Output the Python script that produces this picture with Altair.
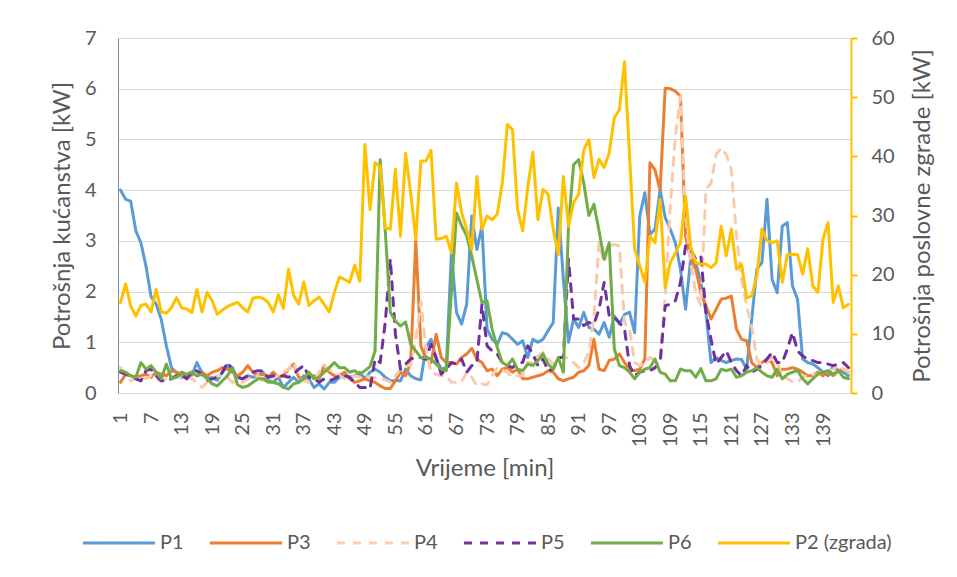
import altair as alt
import pandas as pd

# ---------------- data ----------------
minutes = list(range(1, 145))

p1 = [4.0, 3.82, 3.78, 3.2, 2.96, 2.5, 1.9, 1.75, 1.45, 0.93, 0.5, 0.4, 0.3, 0.35, 0.35, 0.6, 0.4, 0.3, 0.3, 0.25, 0.4, 0.55, 0.44, 0.31,
      0.28, 0.34, 0.31, 0.34, 0.41, 0.24, 0.21, 0.31, 0.11, 0.21, 0.31, 0.21, 0.34, 0.28, 0.11, 0.18, 0.08, 0.21, 0.21, 0.31, 0.34, 0.31, 0.34, 0.41,
      0.28, 0.41, 0.47, 0.41, 0.31, 0.24, 0.24, 0.24, 0.47, 0.34, 0.28, 0.26, 0.9, 1.06, 0.67, 0.47, 0.5, 2.77, 1.59, 1.36, 1.75, 3.49, 2.83,
      3.29, 1.26, 1.06, 0.96, 1.19, 1.16, 1.06, 0.96, 1.03, 0.7, 1.06, 1.0, 1.06, 1.23, 1.39, 3.65, 2.24, 1.0, 1.46, 1.29, 1.59, 1.29, 1.26, 1.16,
      1.39, 1.1, 1.52, 1.36, 1.55, 1.59, 1.19, 3.49, 3.95, 3.13, 3.23, 4.01, 3.46, 3.23, 2.96, 2.44, 1.65, 2.64, 2.57, 2.18, 1.59, 0.6, 0.7,
      0.64, 0.6, 0.64, 0.67, 0.66, 0.47, 1.46, 2.44, 2.57, 3.82, 2.24, 1.98, 3.29, 3.36, 2.11, 1.85, 0.67, 0.6, 0.57, 0.5, 0.41, 0.34, 0.54, 0.44, 0.41, 0.34]

p3 = [0.21, 0.37, 0.34, 0.31, 0.34, 0.37, 0.31, 0.41, 0.37, 0.34, 0.44, 0.41, 0.37, 0.34, 0.41, 0.34, 0.41, 0.34, 0.41, 0.44, 0.5, 0.47, 0.41, 0.34,
      0.41, 0.54, 0.41, 0.34, 0.37, 0.31, 0.41, 0.31, 0.34, 0.47, 0.57, 0.31, 0.28, 0.34, 0.34, 0.28, 0.54, 0.41, 0.34, 0.34, 0.41, 0.28, 0.21, 0.24,
      0.28, 0.24, 0.21, 0.14, 0.09, 0.09, 0.24, 0.41, 0.34, 0.6, 3.0, 0.93, 0.67, 0.6, 1.16, 0.7, 0.6, 0.6, 0.57, 0.7, 0.77, 0.88, 0.67,
      0.6, 0.44, 0.47, 0.34, 0.47, 0.5, 0.41, 0.47, 0.28, 0.28, 0.31, 0.34, 0.37, 0.44, 0.41, 0.28, 0.24, 0.28, 0.31, 0.41, 0.44, 0.54, 1.06, 0.47,
      0.44, 0.64, 0.67, 0.77, 0.6, 0.47, 0.44, 0.47, 0.67, 4.54, 4.4, 4.0, 6.01, 6.0, 5.95, 5.85, 3.1, 2.64, 2.44, 1.98, 1.72, 1.46, 1.65,
      1.85, 1.87, 1.91, 1.26, 1.06, 1.03, 0.6, 0.5, 0.6, 0.67, 0.6, 0.34, 0.47, 0.47, 0.5, 0.47, 0.41, 0.34, 0.34, 0.41, 0.34, 0.41, 0.34, 0.44, 0.47, 0.41]

p4 = [0.5, 0.34, 0.24, 0.31, 0.34, 0.28, 0.34, 0.28, 0.24, 0.28, 0.31, 0.34, 0.28, 0.31, 0.28, 0.21, 0.11, 0.21, 0.28, 0.34, 0.34, 0.31, 0.21, 0.21,
      0.21, 0.28, 0.31, 0.34, 0.24, 0.28, 0.31, 0.34, 0.41, 0.47, 0.6, 0.34, 0.24, 0.21, 0.24, 0.41, 0.54, 0.47, 0.37, 0.34, 0.28, 0.31, 0.34, 0.31,
      0.34, 0.31, 0.3, 0.28, 0.26, 0.21, 0.34, 0.47, 0.54, 0.54, 1.06, 1.8, 0.87, 0.41, 0.37, 0.34, 0.34, 0.21, 0.21, 0.22, 0.41, 0.31, 0.14,
      0.18, 0.16, 0.34, 0.5, 0.45, 0.4, 0.31, 0.34, 0.34, 0.6, 0.6, 0.73, 0.8, 0.67, 0.57, 0.67, 0.73, 0.67, 0.6, 0.5, 0.6, 0.8, 1.5, 2.96,
      2.57, 2.9, 2.93, 2.9, 1.39, 1.26, 0.6, 0.54, 0.6, 0.7, 0.64, 0.67, 1.91, 3.69, 5.06, 5.85, 3.49, 2.57, 1.98, 1.72, 4.01, 4.14, 4.7,
      4.83, 4.7, 4.4, 3.1, 2.24, 1.72, 1.32, 0.67, 0.54, 0.6, 0.7, 0.6, 0.34, 0.28, 0.22, 0.21, 0.31, 0.34, 0.34, 0.37, 0.41, 0.41, 0.47, 0.54, 0.47, 0.41]

p5 = [0.41, 0.37, 0.34, 0.28, 0.24, 0.44, 0.47, 0.34, 0.24, 0.24, 0.28, 0.34, 0.37, 0.28, 0.41, 0.44, 0.37, 0.24, 0.28, 0.31, 0.41, 0.6, 0.47, 0.31,
      0.28, 0.34, 0.41, 0.44, 0.44, 0.31, 0.34, 0.34, 0.34, 0.31, 0.37, 0.47, 0.54, 0.31, 0.28, 0.21, 0.28, 0.24, 0.28, 0.34, 0.34, 0.31, 0.21, 0.11,
      0.11, 0.08, 0.67, 0.6, 1.39, 2.64, 1.16, 0.47, 0.57, 0.67, 0.7, 0.7, 0.67, 0.96, 0.7, 0.37, 0.47, 0.6, 0.57, 0.67, 0.41, 0.54, 0.6,
      1.75, 0.93, 0.83, 0.77, 0.6, 0.54, 0.5, 0.6, 0.6, 0.93, 0.77, 0.54, 0.67, 0.44, 0.47, 0.7, 0.7, 2.64, 1.46, 1.46, 1.33, 1.39, 1.36, 1.65,
      2.18, 1.52, 1.49, 1.39, 1.26, 0.54, 0.34, 0.41, 0.44, 0.44, 0.5, 0.6, 1.72, 1.75, 1.82, 2.18, 2.9, 2.83, 2.64, 2.7, 1.59, 1.06, 0.57,
      0.7, 0.83, 0.6, 0.44, 0.34, 0.54, 0.41, 0.47, 0.54, 0.67, 0.8, 0.6, 0.6, 0.87, 1.19, 0.83, 0.73, 0.67, 0.64, 0.6, 0.6, 0.57, 0.54, 0.57, 0.6, 0.5]

p6 = [0.44, 0.41, 0.34, 0.31, 0.6, 0.47, 0.54, 0.41, 0.28, 0.57, 0.28, 0.31, 0.41, 0.37, 0.41, 0.34, 0.37, 0.28, 0.18, 0.14, 0.24, 0.34, 0.5, 0.16,
      0.11, 0.14, 0.21, 0.28, 0.28, 0.21, 0.21, 0.18, 0.11, 0.08, 0.18, 0.21, 0.28, 0.41, 0.28, 0.31, 0.41, 0.5, 0.6, 0.5, 0.5, 0.41, 0.44, 0.37,
      0.44, 0.52, 0.83, 4.6, 3.2, 1.59, 1.42, 1.32, 1.4, 0.96, 0.83, 0.7, 0.7, 0.67, 0.57, 0.47, 0.44, 2.0, 3.55, 3.3, 3.1, 2.7, 2.24,
      1.78, 1.82, 1.26, 0.9, 0.6, 0.54, 0.67, 0.47, 0.44, 0.57, 0.54, 0.64, 0.77, 0.57, 0.47, 0.7, 0.41, 3.29, 4.5, 4.6, 4.14, 3.5, 3.72, 3.2,
      2.64, 2.96, 0.87, 0.54, 0.5, 0.41, 0.28, 0.41, 0.47, 0.5, 0.67, 0.41, 0.37, 0.24, 0.24, 0.47, 0.44, 0.44, 0.31, 0.48, 0.24, 0.24, 0.28,
      0.47, 0.44, 0.47, 0.31, 0.34, 0.41, 0.44, 0.5, 0.41, 0.34, 0.31, 0.47, 0.28, 0.37, 0.41, 0.44, 0.28, 0.18, 0.28, 0.37, 0.41, 0.44, 0.37, 0.44, 0.31, 0.28]

p2 = [15.3, 18.4, 14.7, 13.0, 14.8, 15.0, 13.7, 17.5, 13.7, 13.5, 14.4, 16.1, 14.4, 14.2, 13.6, 17.5, 13.7, 17.0, 15.6, 13.3, 14.0, 14.6, 15.0, 15.3,
      14.4, 13.7, 16.0, 16.2, 16.0, 15.3, 13.7, 16.6, 14.3, 20.9, 16.5, 15.0, 18.8, 14.8, 15.6, 16.2, 15.0, 13.7, 17.0, 19.6, 19.2, 18.7, 21.6, 18.9,
      42.0, 31.0, 38.9, 38.3, 27.9, 27.7, 37.8, 26.5, 40.5, 33.8, 26.0, 39.2, 39.2, 41.0, 26.0, 26.1, 26.5, 23.7, 35.5, 30.5, 27.7, 24.3, 36.6,
      27.7, 29.9, 29.3, 30.2, 35.5, 45.4, 44.5, 31.0, 27.4, 34.7, 40.7, 29.3, 34.4, 33.6, 27.7, 23.4, 36.6, 28.2, 32.2, 33.6, 41.1, 42.8, 36.4, 39.5,
      38.1, 40.6, 46.5, 47.9, 56.0, 40.0, 24.3, 21.5, 18.7, 26.5, 25.4, 32.7, 17.8, 22.0, 23.7, 25.4, 33.3, 24.8, 22.0, 21.8, 21.8, 21.2, 22.0,
      28.2, 23.2, 27.7, 20.9, 21.8, 16.1, 16.4, 19.8, 27.7, 25.7, 25.4, 25.7, 18.7, 23.4, 23.4, 23.4, 20.1, 24.4, 18.1, 17.0, 26.0, 28.8, 15.3, 18.1, 14.4, 15.0]

series_names = ["P1", "P3", "P4", "P5", "P6", "P2 (zgrada)"]
series_colors = ["#5B9BD5", "#ED7D31", "#F8CBAD", "#7030A0", "#70AD47", "#FFC000"]
series_dashes = [[1, 0], [1, 0], [8, 8], [8, 8], [1, 0], [1, 0]]
x_tick_values = [1, 7, 13, 19, 25, 31, 37, 43, 49, 55, 61, 67, 73, 79, 85, 91, 97, 103, 109, 115, 121, 127, 133, 139]
left_ticks = [0, 1, 2, 3, 4, 5, 6, 7]
right_ticks = [0, 10, 20, 30, 40, 50, 60]

# ---------------- frames ----------------
rows = []
for name, vals in zip(["P1", "P3", "P4", "P5", "P6"], [p1, p3, p4, p5, p6]):
    for m, v in zip(minutes, vals):
        rows.append({"minute": m, "value": v, "series": name})
left_df = pd.DataFrame(rows)
right_df = pd.DataFrame({"minute": minutes, "value": p2, "series": ["P2 (zgrada)"] * len(minutes)})

FONT = "Lato"
TXT = "#595959"

legend = alt.Legend(
    title=None, orient="none", legendX=-37, legendY=467, direction="horizontal",
    symbolType="stroke", symbolSize=5200, symbolStrokeWidth=3,
    labelFont=FONT, labelFontSize=20, labelColor=TXT, labelOffset=3,
    columnPadding=19, padding=0,
)
color_enc = alt.Color("series:N", scale=alt.Scale(domain=series_names, range=series_colors), legend=legend)
dash_enc = alt.StrokeDash("series:N", scale=alt.Scale(domain=series_names, range=series_dashes), legend=legend)

x_enc = alt.X(
    "minute:Q",
    scale=alt.Scale(domain=[0.5, 144.5], nice=False, zero=False),
    axis=alt.Axis(
        values=x_tick_values, labelAngle=270, labelFont=FONT, labelFontSize=20, labelColor=TXT,
        labelPadding=19, ticks=False, tickSize=0, grid=False, domainColor="#D9D9D9", domainWidth=1,
        title="Vrijeme [min]", titleFont=FONT, titleFontSize=24, titleFontWeight="normal", titleColor=TXT,
        titleY=75, titleBaseline="middle",
    ),
)

line_props = dict(strokeWidth=3, strokeCap="round", strokeJoin="round")

left_layer = alt.Chart(left_df).mark_line(**line_props).encode(
    x=x_enc,
    y=alt.Y(
        "value:Q",
        scale=alt.Scale(domain=[0, 7], nice=False),
        axis=alt.Axis(
            values=left_ticks, grid=True, gridColor="#D9D9D9", gridWidth=1,
            domainColor="#868686", domainWidth=1, ticks=False, tickSize=0,
            labelFont=FONT, labelFontSize=20, labelColor=TXT, labelPadding=22,
            title="Potrošnja kućanstva [kW]", titleFont=FONT, titleFontSize=24, titleFontWeight="normal",
            titleColor=TXT, titleAngle=270, titleX=-56, titleY=177.5, titleAlign="center", titleBaseline="middle",
        ),
    ),
    color=color_enc,
    strokeDash=dash_enc,
    detail="series:N",
)

right_layer = alt.Chart(right_df).mark_line(**line_props).encode(
    x=x_enc,
    y=alt.Y(
        "value:Q",
        scale=alt.Scale(domain=[0, 60], nice=False),
        axis=alt.Axis(
            orient="right", values=right_ticks, grid=False,
            domainColor="#FFC000", domainWidth=2, ticks=True, tickColor="#FFC000", tickWidth=2, tickSize=6,
            labelFont=FONT, labelFontSize=20, labelColor=TXT, labelPadding=14,
            title="Potrošnja poslovne zgrade [kW]", titleFont=FONT, titleFontSize=24, titleFontWeight="normal",
            titleColor=TXT, titleAngle=270, titleX=71, titleY=177.5, titleAlign="center", titleBaseline="middle",
        ),
    ),
    color=color_enc,
    strokeDash=dash_enc,
)

chart = alt.layer(left_layer, right_layer).resolve_scale(
    y="independent", color="shared", strokeDash="shared"
).properties(
    width=733, height=355,
    autosize=alt.AutoSizeParams(type="none"),
    padding={"left": 110, "top": 30, "right": 98, "bottom": 170},
    background="white",
).configure_view(stroke=None)

chart.save("out.html", embed_options={"renderer": "svg", "actions": False})
